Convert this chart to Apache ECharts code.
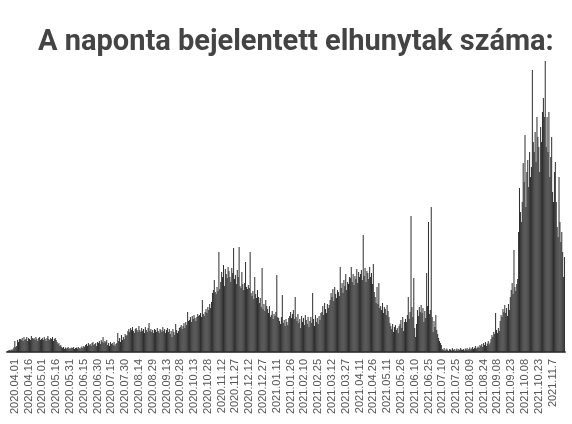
<!DOCTYPE html>
<html><head><meta charset="utf-8">
<script src="https://cdn.jsdelivr.net/npm/echarts@6/dist/echarts.min.js"></script>
<style>html,body{margin:0;padding:0;background:#fff}#c{width:572px;height:424px}</style>
</head><body><div id="c"></div>
<script>
// Daily reported deaths, one array per month (first bar = 2020.03.24)
const m2003 = [2,3,4,3,5,4,6,9];
const m2004 = [22,10,12,24,20,26, 26,24,28,22,30,24,26, 30,22,28,26,24,32,28, 26,28,24,30,26,22,28,30,24,26];
const m2005 = [28,24,30,26,22,28,32,26,24,28,26,30,22,26,28,24, 20,16,18,12,14,10, 8,10,6,9,7,8,10,6,8];
const m2006 = [7,9,8,10,6,8,9,7,10,8,6,9,11,8, 12,10,14,16,12,18,14,16,12,18,20,14,16,18,12,20];
const m2007 = [18,22,16,24,20,30,18,22,20,24, 14,18,12,20,16,18,14,20,12,16,18, 38,22,28,20,34,24,30,26,36,32];
const m2008 = [34,42,46,40,48,44,50,42,38,46,48,44,40,52, 44,40,48,42,46,38,50,44,40,48,58, 42,46,40,44,38,46];
const m2009 = [44,40,48,42,38,46,44,40,50,42,46,38,44,48,40,46, 36,42,30,46,40,34,56,44,38,42,48, 50,54,46];
const m2010 = [52,58,48,60,54,80,62, 64,70,60,72,66,74,68,62,70,76,72, 74,78,70,104,76,72,80,86,78,90,84,96,88];
const m2011 = [100,118,124,144,120,116,130,122,200,126, 140,160,150,174,132,166,156,148,170,162, 150,140,168,158,208,146,154,136,164,150];
const m2012 = [210,132,128,160,136,124,138,180,130,126,134,128, 200,118,112,122,106,150,116,108,124,110, 98,108,90,168,86,96,82,104,92];
const m2101 = [86,78,92,70,74,82,66,76,72,80,154,70,68, 62,56,70,114,58,64,52,66,60,54,68, 72,80,68,76,84,66,110];
const m2102 = [70,62,76,58,66,48,72,60,68,54,74,64,56,70,50, 62,70,58,118,66,52,74,60,68,56,72,64,78];
const m2103 = [80,92,74,98,86,78,96,88,94, 104,118,110,126,102,130,116,108,124,120,112, 170,128,138,118,144,132,156,124,140,136,150];
const m2104 = [148,170,140,156,134,152,146,166,138,160,150, 156,164,144,234,152,168,140,162,158,146,170, 150,158,136,176,120,110,98,130];
const m2105 = [96,138,88,92,84,98,78,90,86,74,94,82,70, 58,52,46,56,40,50,54,44,48,38,52, 56,64,48,70,42,60,66];
const m2106 = [60,74,110,66,80,272,90,70,148,48,30,56, 84,72,90,80,94,78,88,60,82, 68,158,92,260,76,84,290,70,40];
const m2107 = [62,50,74,44,36,28,22,18,14, 6,4,8,3,5,7,4,2,6,5,3,8,4,6,2,5,7,3,6,4,8,5];
const m2108 = [4,6,3,7,5,8,4,6,9,5,7,10,6,8,12,7,9,11,8,14, 12,16,10,18,14,20,12,17,22,15,19];
const m2109 = [26,34,30,40,36,78,44,38,48,42, 62,74,70,86,80,94,78,88,72,96,84, 110,124,138,116,204,130,122,136,146];
const m2110 = [240,328,280,260, 300,378,340,434,290,360,384,330,400,350,370, 564,420,400,440,380,470,430,410,360,450,420, 480,508,470,582,410];
const m2111 = [470,400,480,350,390,430,320,300,360,380,300,250,230,350,260,220,240,200,150,190];

const tickLabels = ["2020.04.01","2020.04.16","2020.05.01","2020.05.16","2020.05.31","2020.06.15","2020.06.30","2020.07.15","2020.07.30","2020.08.14","2020.08.29","2020.09.13","2020.09.28","2020.10.13","2020.10.28","2020.11.12","2020.11.27","2020.12.12","2020.12.27","2021.01.11","2021.01.26","2021.02.10","2021.02.25","2021.03.12","2021.03.27","2021.04.11","2021.04.26","2021.05.11","2021.05.26","2021.06.10","2021.06.25","2021.07.10","2021.07.25","2021.08.09","2021.08.24","2021.09.08","2021.09.23","2021.10.08","2021.10.23","2021.11.7"];
const firstTickIndex = 8;   // 2020.04.01 is the 9th day
const tickStep = 15;

const values = [].concat(m2003,m2004,m2005,m2006,m2007,m2008,m2009,m2010,m2011,m2012,
  m2101,m2102,m2103,m2104,m2105,m2106,m2107,m2108,m2109,m2110,m2111);
const categories = values.map((v,i)=>String(i));

const chart = echarts.init(document.getElementById('c'), null, {renderer:'canvas'});
chart.setOption({
  animation:false,
  backgroundColor:'#fff',
  title:{
    text:'A naponta bejelentett elhunytak száma:',
    left:33, top:23,
    textStyle:{fontFamily:'Roboto', fontWeight:'bold', fontSize:29, color:'#444'}
  },
  grid:{left:7, right:7, top:52, bottom:72, containLabel:false},
  xAxis:{
    type:'category', data:categories, boundaryGap:true,
    axisTick:{show:false},
    axisLine:{show:true, lineStyle:{color:'#555', width:2}},
    axisLabel:{
      rotate:90, fontSize:11, color:'#555', fontFamily:'Liberation Sans, Arial, sans-serif', margin:7,
      interval:(idx)=> idx>=firstTickIndex && (idx-firstTickIndex)%tickStep===0,
      formatter:(v,idx)=> tickLabels[(idx-firstTickIndex)/tickStep] || ''
    }
  },
  yAxis:{type:'value', min:0, max:600, show:false},
  series:[{
    type:'bar', data:values, barCategoryGap:'5%',
    itemStyle:{color:'#2e2e2e'}
  }]
});
</script></body></html>
